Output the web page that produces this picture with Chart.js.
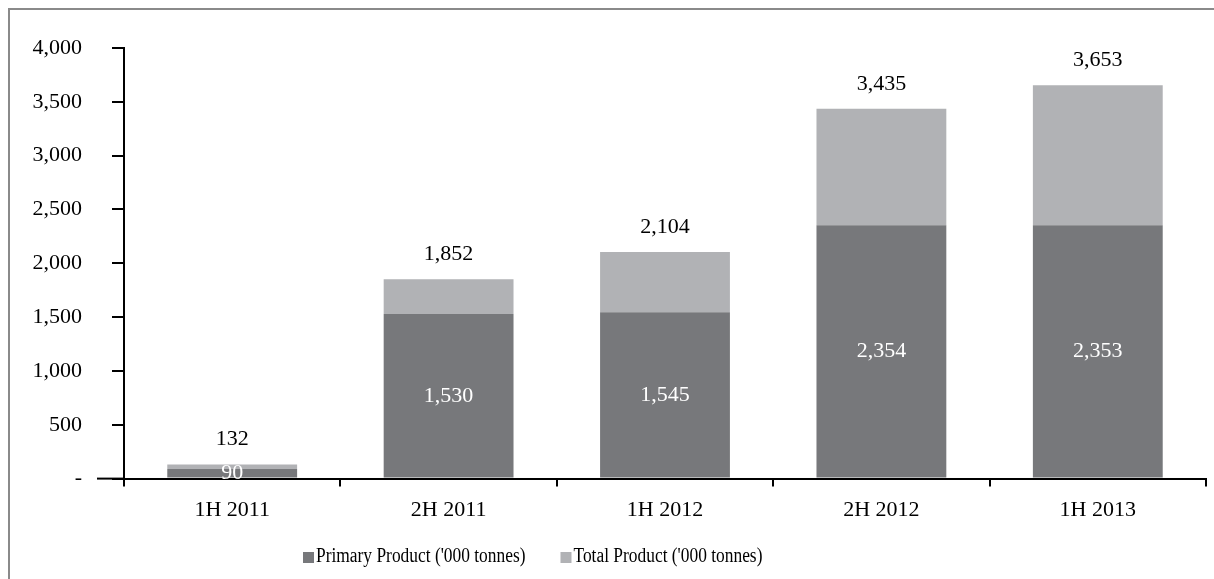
<!DOCTYPE html>
<html>
<head>
<meta charset="utf-8">
<script src="https://cdn.jsdelivr.net/npm/chart.js@4"></script>
<style>
  html, body { margin: 0; padding: 0; background: #fff; }
  #wrap { position: relative; width: 1214px; height: 579px; }
  #frame { position: absolute; left: 8px; top: 8px; right: 0; bottom: 0;
           border-top: 2px solid #8a8a8a; border-left: 2px solid #8a8a8a; }
  canvas { position: absolute; left: 0; top: 0; }
</style>
</head>
<body>
<div id="wrap">
  <div id="frame"></div>
  <canvas id="prodChart" width="1214" height="579"></canvas>
</div>
<script>
const periods = ["1H 2011", "2H 2011", "1H 2012", "2H 2012", "1H 2013"];
const primaryProduct = [90, 1530, 1545, 2354, 2353];
const totalProduct = [132, 1852, 2104, 3435, 3653];
const yTicks = [0, 500, 1000, 1500, 2000, 2500, 3000, 3500, 4000];

// the light segment sits on top of the primary bar and reaches the total
const otherProduct = totalProduct.map((t, i) => t - primaryProduct[i]);

const FONT = "'Liberation Serif', 'Times New Roman', serif";
const fmt = v => v === 0 ? "-" : v.toLocaleString("en-US");

const barLabels = {
  id: "barLabels",
  afterDatasetsDraw(chart) {
    const ctx = chart.ctx;
    const y = chart.scales.y;
    ctx.save();
    ctx.font = "22px " + FONT;
    ctx.textAlign = "center";
    ctx.textBaseline = "middle";
    chart.getDatasetMeta(0).data.forEach((bar, i) => {
      ctx.fillStyle = "#ffffff";
      ctx.fillText(fmt(primaryProduct[i]), bar.x, (bar.y + bar.base) / 2);
      ctx.fillStyle = "#000000";
      ctx.fillText(fmt(totalProduct[i]), bar.x, y.getPixelForValue(totalProduct[i]) - 25);
    });
    // x axis line runs a little past the y axis on the left
    const y0 = y.getPixelForValue(0);
    ctx.strokeStyle = "#000";
    ctx.lineWidth = 2;
    ctx.beginPath();
    ctx.moveTo(chart.chartArea.left - 27, y0);
    ctx.lineTo(chart.chartArea.left, y0);
    ctx.stroke();
    ctx.restore();
  }
};

// legend sits left of centre in the original, so it is drawn by hand
// (its type is a narrow face, so the text is squeezed a little)
const bottomLegend = {
  id: "bottomLegend",
  afterDraw(chart) {
    const ctx = chart.ctx;
    const squeeze = 0.87;
    ctx.save();
    ctx.font = "20px " + FONT;
    ctx.textBaseline = "middle";
    ctx.textAlign = "left";
    let x = 303;
    const yMid = 557;
    chart.data.datasets.forEach(ds => {
      ctx.fillStyle = ds.backgroundColor;
      ctx.fillRect(x, yMid - 5, 11, 11);
      ctx.fillStyle = "#000";
      ctx.save();
      ctx.translate(x + 13, yMid);
      ctx.scale(squeeze, 1);
      ctx.fillText(ds.label, 0, 0);
      ctx.restore();
      x += 13 + ctx.measureText(ds.label).width * squeeze + 35;
    });
    ctx.restore();
  }
};

new Chart(document.getElementById("prodChart").getContext("2d"), {
  type: "bar",
  data: {
    labels: periods,
    datasets: [{
      label: "Primary Product ('000 tonnes)",
      data: primaryProduct,
      backgroundColor: "#77787b",
      categoryPercentage: 0.6,
      barPercentage: 1
    }, {
      label: "Total Product ('000 tonnes)",
      data: otherProduct,
      backgroundColor: "#b1b2b5",
      categoryPercentage: 0.6,
      barPercentage: 1
    }]
  },
  options: {
    responsive: false,
    animation: false,
    layout: { padding: { left: 0, top: 48, right: 8, bottom: 46 } },
    plugins: {
      tooltip: { enabled: false },
      legend: { display: false }
    },
    scales: {
      x: {
        stacked: true,
        grid: { offset: true, drawOnChartArea: false, color: "#000", lineWidth: 2, tickLength: 8 },
        border: { color: "#000", width: 2 },
        ticks: { color: "#000", font: { family: FONT, size: 22 }, padding: 10 }
      },
      y: {
        stacked: true,
        min: 0,
        max: 4000,
        afterFit(scale) { scale.width = 124; },
        afterBuildTicks(scale) { scale.ticks = yTicks.map(v => ({ value: v })); },
        grid: { drawOnChartArea: false, color: "#000", lineWidth: 2, tickLength: 12 },
        border: { color: "#000", width: 2 },
        ticks: { color: "#000", font: { family: FONT, size: 22 }, padding: 30, callback: v => fmt(v) }
      }
    }
  },
  plugins: [barLabels, bottomLegend]
});
</script>
</body>
</html>
